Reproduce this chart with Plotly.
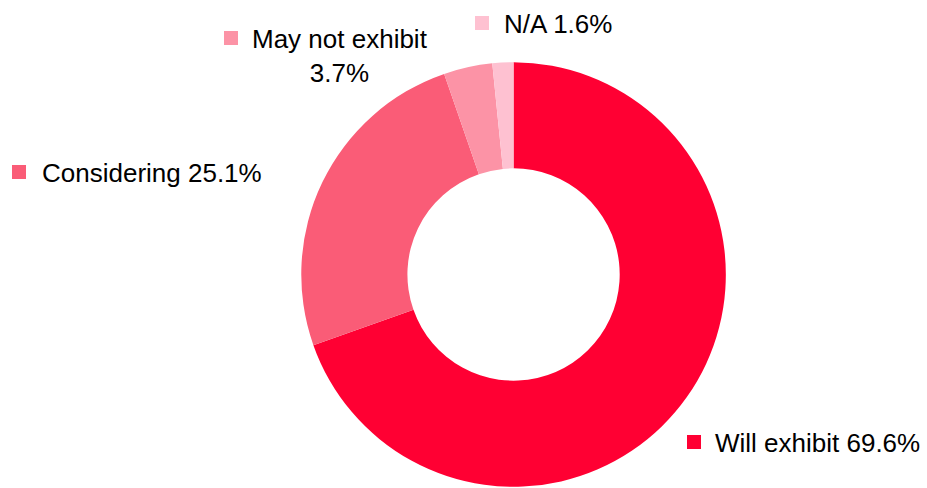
import plotly.graph_objects as go

labels = ["Will exhibit", "Considering", "May not exhibit", "N/A"]
values = [69.6, 25.1, 3.7, 1.6]
colors = ["#FF0033", "#FA5C77", "#FC93A6", "#FEC1D1"]

W, H = 927, 488

fig = go.Figure(go.Pie(
    labels=labels, values=values, hole=0.5, sort=False,
    direction="clockwise", rotation=0,
    marker=dict(colors=colors, line=dict(width=0)),
    textinfo="none", hoverinfo="label+percent",
    domain=dict(x=[0.5540 - 0.229, 0.5540 + 0.229], y=[0, 0.875]),
    showlegend=False,
))

font = dict(family="Liberation Sans, Arial, sans-serif", size=26, color="#000000")

# label layout: (square left, square top, text x, text y, anchor, text)
label_spec = [
    (687, 435, 713, 443, "left", f"{labels[0]} {values[0]}%"),
    (12, 165, 40, 173, "left", f"{labels[1]} {values[1]}%"),
    (224, 31, 339.5, 56, "center", f"{labels[2]}<br>{values[2]}%"),
    (475, 16, 502, 24, "left", f"{labels[3]} {values[3]}%"),
]

shapes = []
annotations = []
for (sx, sy, tx, ty, anc, txt), c in zip(label_spec, colors):
    shapes.append(dict(type="rect", xref="paper", yref="paper",
                       x0=sx / W, x1=(sx + 14) / W,
                       y0=1 - (sy + 14) / H, y1=1 - sy / H,
                       fillcolor=c, line=dict(width=0)))
    annotations.append(dict(xref="paper", yref="paper", x=tx / W, y=1 - ty / H,
                            xanchor=anc, yanchor="middle", text=txt, showarrow=False,
                            align="center", font=font))

fig.update_layout(
    width=W, height=H,
    margin=dict(l=0, r=0, t=0, b=0),
    paper_bgcolor="white", plot_bgcolor="white",
    shapes=shapes, annotations=annotations,
)

fig.write_html("out.html", config={"displayModeBar": False},
               post_script="document.body.style.margin='0';document.body.style.overflow='hidden';")
